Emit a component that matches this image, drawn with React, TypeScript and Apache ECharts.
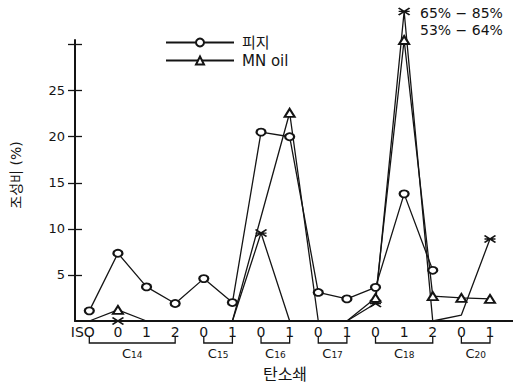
import React, { useEffect, useRef } from 'react';
import * as echarts from 'echarts';

// ---- data ----
const categories = ['ISO', '0', '1', '2', '0', '1', '0', '1', '0', '1', '0', '1', '2', '0', '1'];
const sebumValues = [1.1, 7.35, 3.7, 1.9, 4.6, 2.0, 20.5, 20.0, 3.1, 2.4, 3.65, 13.8, 5.5, null, null];
const mnOilValues = [0, 1.2, 0, 0, 0, 0, null, 22.6, 0, 0, 2.5, 30.5, 2.7, 2.5, 2.4];
const thirdValues = [0, 0, 0, 0, 0, 0, 9.55, 0, 0, 0, 1.9, 33.6, 0, 0.65, 8.9];
const thirdMarkedIdx = [1, 6, 10, 11, 14];
const yTickValues = [5, 10, 15, 20, 25, 30];
const yLabelValues = [5, 10, 15, 20, 25];
const chainGroups = [
  { carbons: '14', first: 0, last: 3 },
  { carbons: '15', first: 4, last: 5 },
  { carbons: '16', first: 6, last: 7 },
  { carbons: '17', first: 8, last: 9 },
  { carbons: '18', first: 10, last: 12 },
  { carbons: '20', first: 13, last: 14 },
];
const seriesNames = ['피지', 'MN oil', '기타'];
const peakNotes = ['65% − 85%', '53% − 64%'];
const yTitle = '조성비 (%)';
const xTitle = '탄소쇄';

const FONT = "'DejaVu Sans', 'Noto Sans CJK KR', sans-serif";
const INK = '#141414';
const X_MARK = 'path://M0,0L12,8M0,8L12,0M0,4L12,4';

function buildOption(): any {
  const lineStyle = { color: INK, width: 1.3 };
  return {
    animation: false,
    backgroundColor: '#ffffff',
    grid: { left: 75, right: 15.7, top: 40, bottom: 65 },
    legend: {
      data: [seriesNames[0], seriesNames[1]],
      orient: 'vertical',
      left: 165,
      top: 35,
      padding: 0,
      itemWidth: 68,
      itemHeight: 10,
      itemGap: 3,
      selectedMode: false,
      textStyle: { fontFamily: FONT, fontSize: 15, color: INK, padding: [0, 0, 0, 3] },
    },
    xAxis: [
      {
        type: 'category',
        data: categories,
        boundaryGap: true,
        axisLine: { lineStyle: { color: INK, width: 2 } },
        axisTick: { alignWithLabel: true, interval: 0, length: 4, lineStyle: { color: INK, width: 1.3 } },
        axisLabel: {
          interval: 0,
          margin: 4,
          fontFamily: FONT,
          fontSize: 14,
          color: INK,
          formatter: (v: string, i: number) => (i === 0 ? `{iso|${v}}` : v),
          rich: { iso: { padding: [0, 13, 0, 0], fontFamily: FONT, fontSize: 14, color: INK } },
        },
        splitLine: { show: false },
      },
      {
        type: 'category',
        data: categories,
        position: 'bottom',
        boundaryGap: true,
        axisLine: { show: false },
        axisTick: { inside: true, alignWithLabel: true, interval: 0, length: 5, lineStyle: { color: INK, width: 1.3 } },
        axisLabel: { show: false },
        splitLine: { show: false },
      },
    ],
    yAxis: [
      {
        type: 'value',
        min: 0,
        max: 30.5,
        position: 'left',
        axisLine: { show: true, lineStyle: { color: INK, width: 2 } },
        axisTick: { show: true, length: 7, customValues: yTickValues, lineStyle: { color: INK, width: 1.3 } },
        axisLabel: { margin: 10, customValues: yLabelValues, fontFamily: FONT, fontSize: 13, color: INK },
        splitLine: { show: false },
      },
      {
        type: 'value',
        min: 0,
        max: 30.5,
        position: 'left',
        axisLine: { show: false },
        axisTick: { show: true, inside: true, length: 7, customValues: yTickValues, lineStyle: { color: INK, width: 1.3 } },
        axisLabel: { show: false },
        splitLine: { show: false },
      },
    ],
    series: [
      {
        name: seriesNames[0],
        type: 'line',
        data: sebumValues,
        symbol: 'emptyCircle',
        symbolSize: [9, 7],
        showAllSymbol: true,
        clip: false,
        lineStyle,
        itemStyle: { color: INK, borderColor: INK, borderWidth: 1.3 },
        z: 3,
      },
      {
        name: seriesNames[1],
        type: 'line',
        data: mnOilValues.map((v) => (v === 0 ? { value: v, symbol: 'none' } : v)),
        symbol: 'emptyTriangle',
        symbolSize: [10, 8],
        showAllSymbol: true,
        connectNulls: true,
        clip: false,
        lineStyle,
        itemStyle: { color: INK, borderColor: INK, borderWidth: 1.3 },
        z: 2,
      },
      {
        name: seriesNames[2],
        type: 'line',
        data: thirdValues.map((v, i) => (thirdMarkedIdx.includes(i) ? v : { value: v, symbol: 'none' })),
        symbol: X_MARK,
        symbolSize: [11, 7],
        showAllSymbol: true,
        clip: false,
        lineStyle,
        itemStyle: { color: INK, borderColor: INK, borderWidth: 1.6 },
        z: 1,
      },
    ],
  };
}

export default function App() {
  const ref = useRef<HTMLDivElement>(null);
  useEffect(() => {
    const chart = echarts.init(ref.current!, null, { renderer: 'svg' });
    chart.setOption(buildOption());

    const xPix = (i: number) => chart.convertToPixel({ xAxisIndex: 0 }, i) as number;
    const axisY = 386 - 65;
    const graphics: any[] = [];
    chainGroups.forEach((g) => {
      const x1 = xPix(g.first);
      const x2 = xPix(g.last);
      graphics.push({
        type: 'polyline',
        shape: { points: [[x1, axisY + 16], [x1, axisY + 22], [x2, axisY + 22], [x2, axisY + 16]] },
        style: { stroke: INK, lineWidth: 1.3, fill: null },
      });
      graphics.push({
        type: 'text',
        x: (x1 + x2) / 2,
        y: axisY + 32,
        style: {
          text: `{c|C}{s|${g.carbons}}`,
          align: 'center',
          verticalAlign: 'middle',
          rich: {
            c: { fontFamily: FONT, fontSize: 13, fill: INK },
            s: { fontFamily: FONT, fontSize: 9, fill: INK, padding: [4, 0, 0, 0] },
          },
        },
      });
    });
    const xEnd = 520 - 15.7;
    graphics.push({
      type: 'line',
      shape: { x1: xEnd - 1, y1: axisY, x2: 513, y2: axisY },
      style: { stroke: INK, lineWidth: 2 },
    });
    graphics.push({
      type: 'text',
      x: 16,
      y: 175,
      rotation: Math.PI / 2,
      style: { text: yTitle, fontFamily: FONT, fontSize: 14, fill: INK, align: 'center', verticalAlign: 'middle' },
    });
    graphics.push({
      type: 'text',
      x: 285,
      y: 374,
      style: { text: xTitle, fontFamily: FONT, fontSize: 16, fill: INK, align: 'center', verticalAlign: 'middle' },
    });
    peakNotes.forEach((t, k) => {
      graphics.push({
        type: 'text',
        x: 420,
        y: 13 + k * 17,
        style: { text: t, fontFamily: FONT, fontSize: 14, fill: INK, align: 'left', verticalAlign: 'middle' },
      });
    });
    chart.setOption({ graphic: graphics });
    return () => chart.dispose();
  }, []);
  return <div ref={ref} style={{ position: 'absolute', left: 0, top: 0, width: 520, height: 386 }} />;
}
